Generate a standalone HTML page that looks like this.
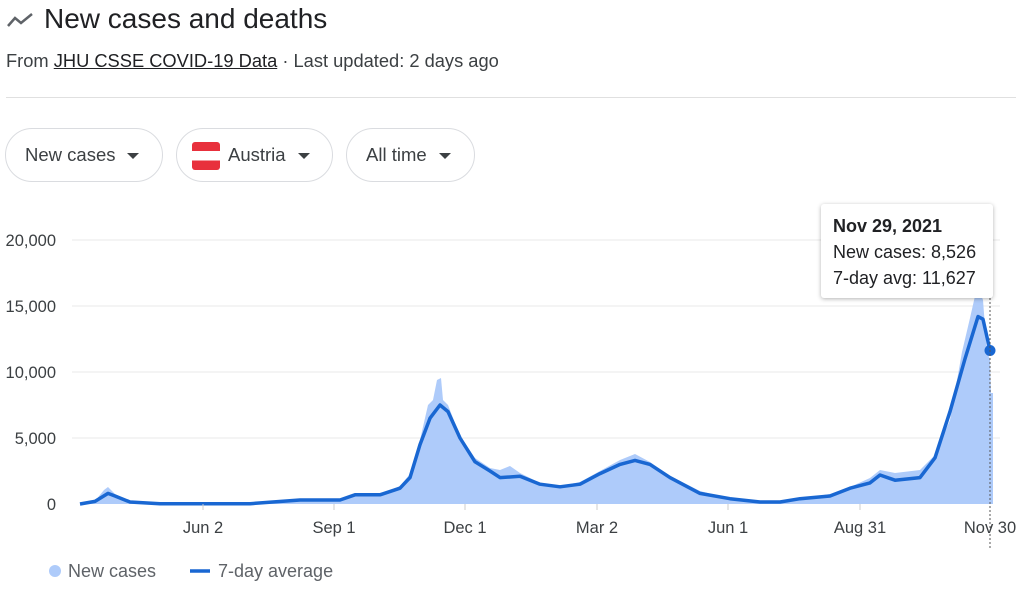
<!DOCTYPE html>
<html><head><style>
body{margin:0;width:1024px;height:593px;background:#fff;font-family:"Liberation Sans",Arial,sans-serif;overflow:hidden;position:relative}
.t{position:absolute;left:44px;top:3px;font-size:28px;color:#202124}
.s{position:absolute;left:6px;top:50px;font-size:18.3px;color:#3c4043}
.s u{color:#202124}
hr{position:absolute;left:6px;top:97px;width:1010px;border:0;border-top:1px solid #e0e0e0;margin:0}
.chip{position:absolute;top:128px;height:54px;border:1px solid #dadce0;border-radius:27px;box-sizing:border-box;font-size:18.5px;color:#3c4043;line-height:52px}
.tri{display:inline-block;width:0;height:0;border-left:6px solid transparent;border-right:6px solid transparent;border-top:6px solid #3c4043;vertical-align:middle;margin-left:12px}
.tip{position:absolute;left:821px;top:204px;width:172px;height:94px;background:#fff;box-shadow:0 1px 4px rgba(0,0,0,.3);border-radius:3px;font-size:18px;color:#202124;box-sizing:border-box;padding:12px 12px;line-height:20px}
</style></head><body>
<svg style="position:absolute;left:6px;top:10px" width="30" height="20"><polyline points="2,16 9,8 15,13 26,4" fill="none" stroke="#5f6368" stroke-width="2.5"/></svg>
<div class="t">New cases and deaths</div>
<div class="s">From <u>JHU CSSE COVID-19 Data</u> · Last updated: 2 days ago</div>
<hr>
<div class="chip" style="left:5px;width:158px;padding-left:19px">New cases<span class="tri"></span></div>
<div class="chip" style="left:176px;width:157px;padding-left:15px"><span style="display:inline-block;width:28px;height:28px;vertical-align:middle;margin-right:8px;background:linear-gradient(#e8303c 0 33%,#fff 33% 66%,#e8303c 66%);border-radius:3px"></span>Austria<span class="tri"></span></div>
<div class="chip" style="left:346px;width:129px;padding-left:19px">All time<span class="tri"></span></div>
<svg style="position:absolute;left:0;top:0" width="1024" height="593">
<g stroke="#e8e8e8" stroke-width="1"><line x1="72" y1="240" x2="1000" y2="240"/><line x1="72" y1="306" x2="1000" y2="306"/><line x1="72" y1="372" x2="1000" y2="372"/><line x1="72" y1="438" x2="1000" y2="438"/></g>
<g font-size="16.5" fill="#3c4043" text-anchor="end"><text x="56" y="246">20,000</text><text x="56" y="312">15,000</text><text x="56" y="378">10,000</text><text x="56" y="444">5,000</text><text x="56" y="510">0</text></g>
<polygon fill="#aecbfa" points="80,504 95,501 104,490 108,487 115,494 130,502 160,503.7 250,503.7 300,500 340,499 355,494 380,494 400,486 410,474 420,440 428,405 433,400 437,380 441,378 443,400 448,405 460,436 475,458 490,468 500,470 510,466 520,473 540,483 560,486 580,482 600,471 620,460 635,454 650,462 670,476 700,491 730,498.7 760,502 780,502 800,498.7 830,494 850,487 870,478 880,470 895,473 920,470 935,455 950,420 962,352 970,318 975,296 979,290 983,300 986,340 988,354 990,360 991,393 993,393 993,504"/>
<polyline fill="none" stroke="#1967d2" stroke-width="3.5" stroke-linejoin="round" points="80,504 95,501.4 108,493.4 115,496 130,502 160,503.7 250,503.7 300,500 340,500 355,494.8 380,494.8 400,488.2 410,477.6 420,444.6 430,418.2 440,405 448,411.6 460,438 475,461.8 490,471 500,477.6 520,476.3 540,484.2 560,486.8 580,484.2 600,473.6 620,464.4 635,460.4 650,464.4 670,477.6 700,493.4 730,498.7 760,502 780,502 800,498.7 830,496 850,488.2 870,482.9 880,475 895,480.2 920,477.6 935,457.8 950,411.6 965,358.8 978,316.6 983,319.2 990,350.5"/>
<circle cx="990" cy="350.5" r="5.5" fill="#1967d2"/>
<line x1="990" y1="298" x2="990" y2="548" stroke="#555" stroke-width="1" stroke-dasharray="2,2"/>
<g stroke="#ccc"><line x1="203" y1="504" x2="203" y2="510"/><line x1="334" y1="504" x2="334" y2="510"/><line x1="465" y1="504" x2="465" y2="510"/><line x1="597" y1="504" x2="597" y2="510"/><line x1="728" y1="504" x2="728" y2="510"/><line x1="860" y1="504" x2="860" y2="510"/></g>
<g font-size="16.5" fill="#3c4043" text-anchor="middle"><text x="203" y="533">Jun 2</text><text x="334" y="533">Sep 1</text><text x="465" y="533">Dec 1</text><text x="597" y="533">Mar 2</text><text x="728" y="533">Jun 1</text><text x="860" y="533">Aug 31</text><text x="990" y="533">Nov 30</text></g>
<circle cx="55" cy="571" r="6" fill="#aecbfa"/>
<text x="68" y="577" font-size="18" fill="#5f6368">New cases</text>
<line x1="190" y1="571" x2="210" y2="571" stroke="#1967d2" stroke-width="3.5"/>
<text x="218" y="577" font-size="18" fill="#5f6368">7-day average</text>
</svg>
<div class="tip"><b>Nov 29, 2021</b><div style="margin-top:6px">New cases: 8,526</div><div style="margin-top:6px">7-day avg: 11,627</div></div>
</body></html>
